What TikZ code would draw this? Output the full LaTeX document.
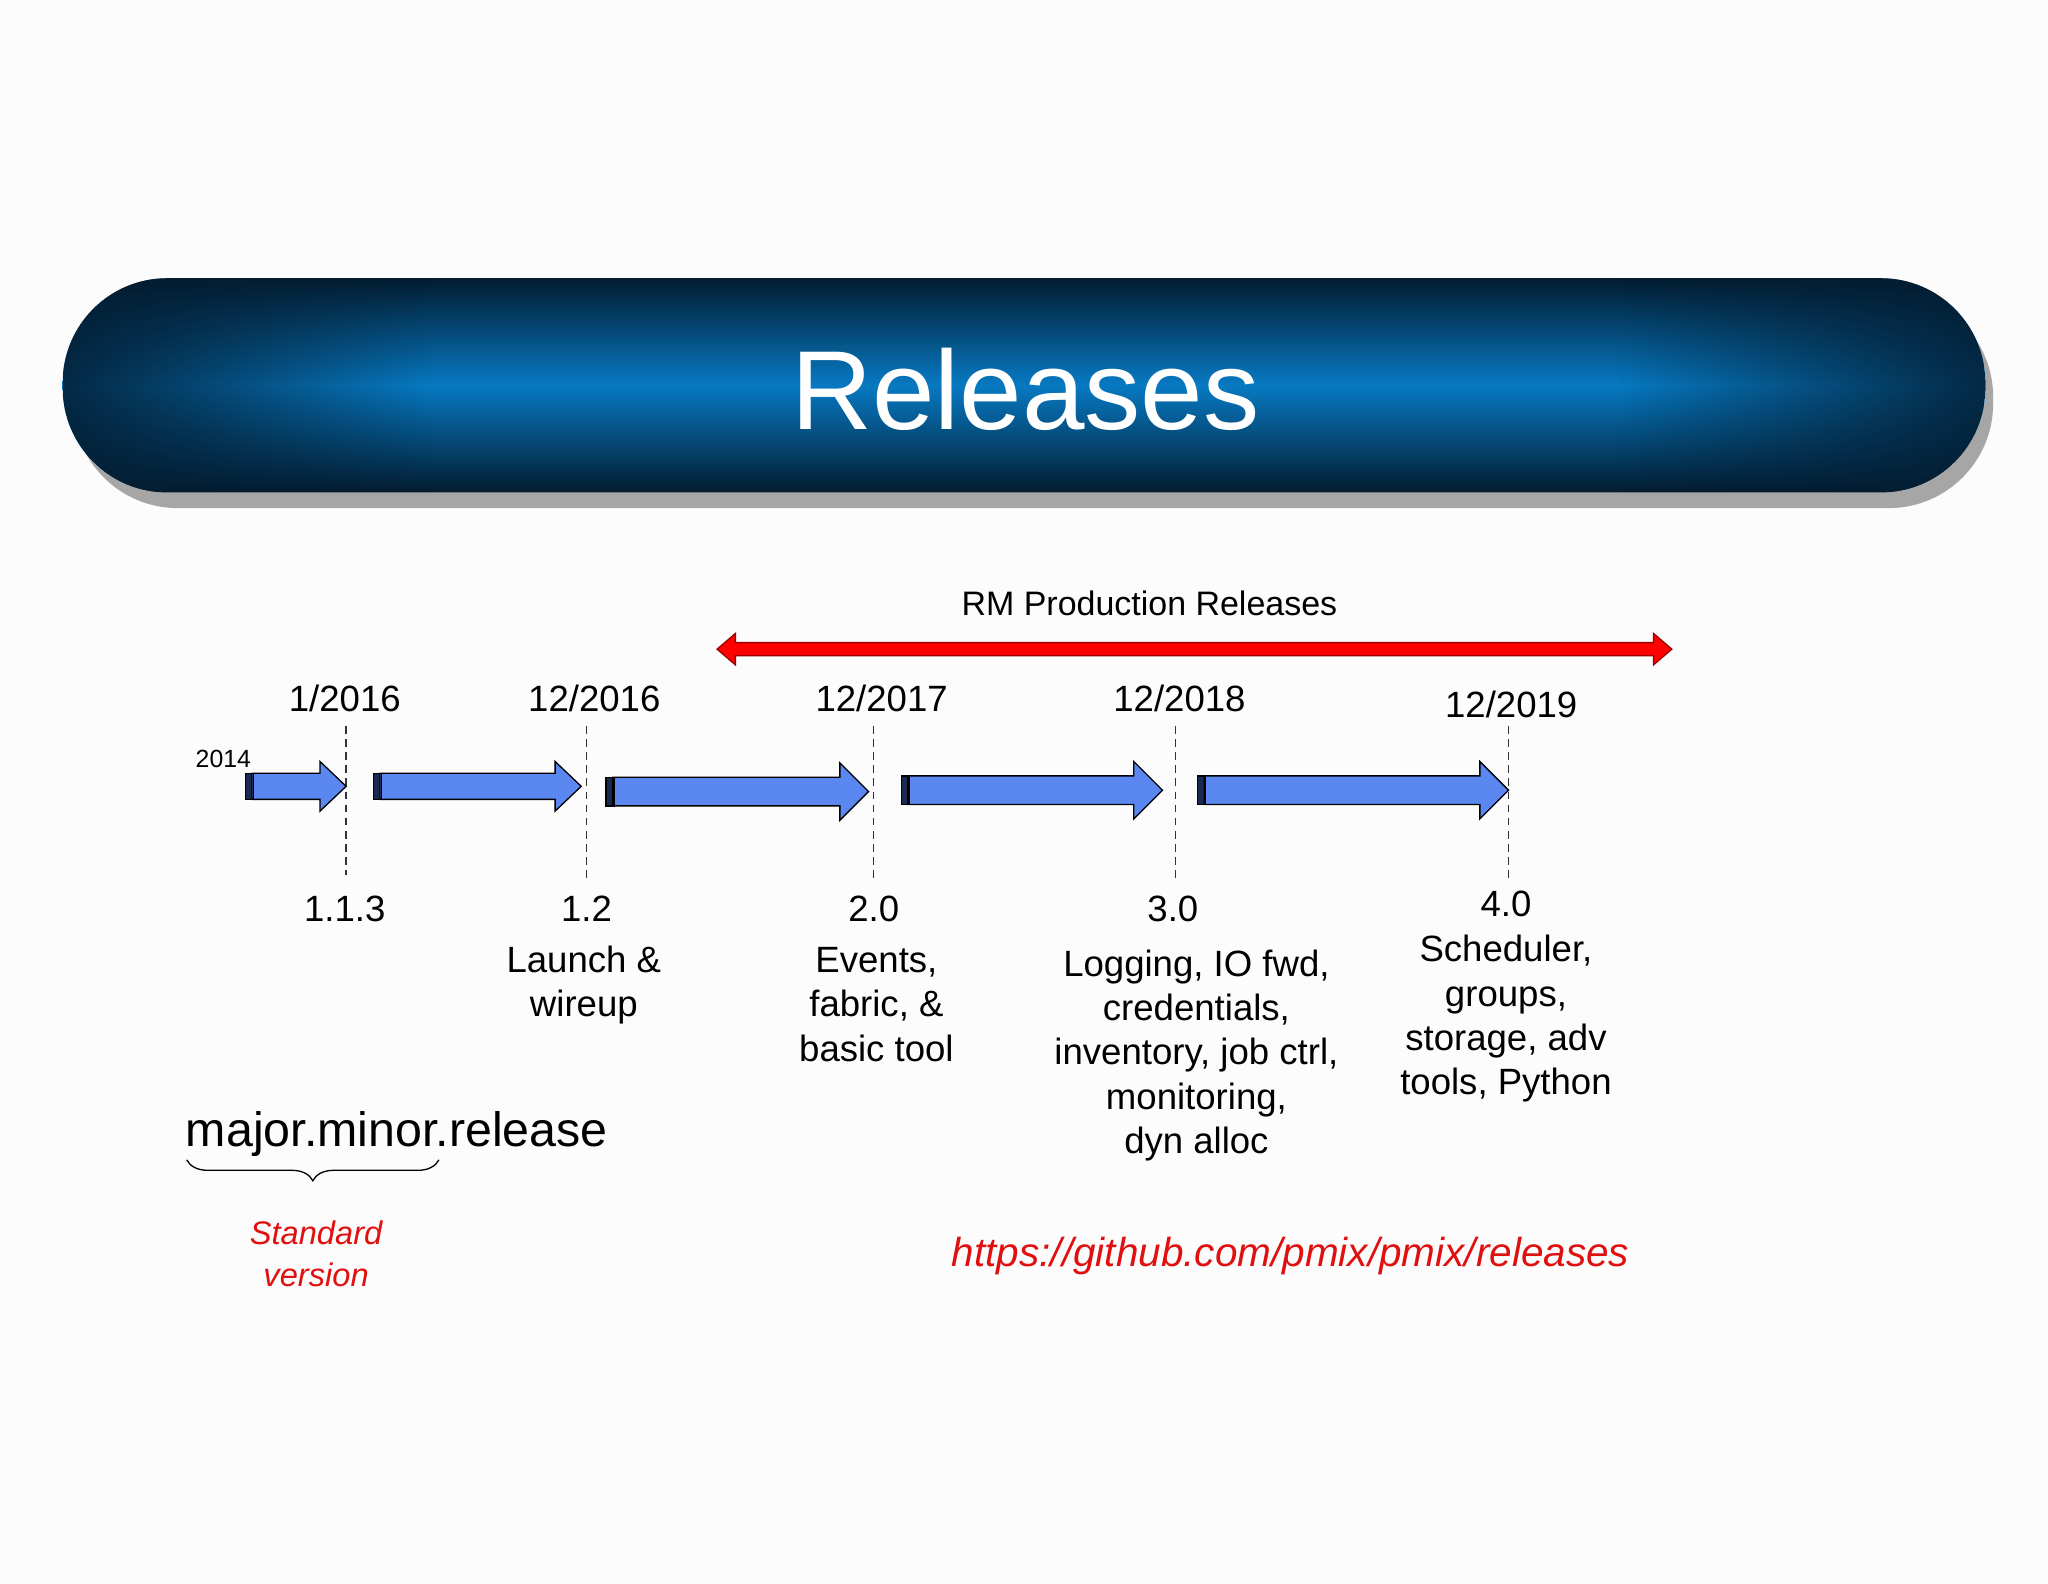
\documentclass[tikz,border=0pt]{standalone}
\usepackage{fontspec}
\setmainfont{Liberation Sans}
\usetikzlibrary{decorations.pathreplacing,fadings}
\definecolor{bg}{HTML}{FCFCFC}
\definecolor{navy}{HTML}{031C30}
\definecolor{midblue}{HTML}{0779C2}
\definecolor{arrblue}{HTML}{5B87F0}
\definecolor{arrdark}{HTML}{1A2A50}
\definecolor{redtxt}{HTML}{E01010}
\tikzset{
  lbl/.style={font=\fontsize{14pt}{17pt}\selectfont, align=center, inner sep=0pt},
  vline/.style={densely dashed, line width=0.5pt, black!80},
  redlink/.style={text=redtxt, font=\itshape},
}
\newcommand{\relarrow}[6]{% x1 x2 yc shaft head headlen
  \fill[arrdark] (#1,#3-#4) rectangle (#1+6,#3+#4);
  \draw[fill=arrblue, line width=0.5pt] (#1+5,#3-#4) -- (#2-#6,#3-#4) -- (#2-#6,#3-#5) -- (#2,#3) -- (#2-#6,#3+#5) -- (#2-#6,#3+#4) -- (#1+5,#3+#4) -- cycle;
  \draw[line width=0.5pt] (#1,#3-#4) rectangle (#1+6,#3+#4);
}
\begin{document}
\begin{tikzpicture}[x=0.5pt,y=-0.5pt]
\useasboundingbox[fill=bg] (0,0) rectangle (1568,1212);
% banner
\fill[black!35, rounded corners=40pt] (56,224) rectangle (1526,389);
\begin{scope}
\clip[rounded corners=40pt] (48,213) rectangle (1520,377);
\shade[top color=navy, bottom color=navy, middle color=midblue] (48,213) rectangle (1520,377);
\fill[navy, path fading=east, opacity=0.85] (48,213) rectangle (330,377);
\fill[navy, path fading=west, opacity=0.85] (1238,213) rectangle (1520,377);
\end{scope}
\node[text=white, font=\fontsize{43pt}{50pt}\selectfont] (title) at (785,298) {Releases};
% RM production
\node[lbl, font=\fontsize{13pt}{16pt}\selectfont] (rm) at (880,462) {RM Production Releases};
\draw[fill=red, draw=red!60!black, line width=0.5pt] (549,497) -- (563,485) -- (563,492) -- (1266,492) -- (1266,485) -- (1280,497) -- (1266,509) -- (1266,502) -- (563,502) -- (563,509) -- cycle;
% dates
\node[lbl] (d1) at (264,535) {1/2016};
\node[lbl] (d2) at (455,535) {12/2016};
\node[lbl] (d3) at (675,535) {12/2017};
\node[lbl] (d4) at (903,535) {12/2018};
\node[lbl] (d5) at (1157,539) {12/2019};
\node[lbl, font=\fontsize{9.5pt}{11pt}\selectfont] (y0) at (171,581) {2014};
% dashed lines
\draw[vline] (265,556) -- (265,670);
\draw[vline] (449,556) -- (449,672);
\draw[vline] (669,556) -- (669,672);
\draw[vline] (900,556) -- (900,672);
\draw[vline] (1155,556) -- (1155,672);
% arrows
\relarrow{188}{265}{602}{10}{19}{20}
\relarrow{286}{445}{602}{10}{19}{20}
\relarrow{464}{665}{606}{11}{22}{22}
\relarrow{690}{890}{605}{11}{22}{22}
\relarrow{917}{1155}{605}{11}{22}{22}
% versions
\node[lbl] (v1) at (264,696) {1.1.3};
\node[lbl] (v2) at (449,696) {1.2};
\node[lbl] (v3) at (669,696) {2.0};
\node[lbl] (v4) at (898,696) {3.0};
\node[lbl] (v5) at (1153,692) {4.0};
\node[lbl] (t2) at (447,754) {Launch \&\\wireup};
\node[lbl] (t3) at (671,769) {Events,\\fabric, \&\\basic tool};
\node[lbl] (t4) at (916,808) {Logging, IO fwd,\\credentials,\\inventory, job ctrl,\\monitoring,\\dyn alloc};
\node[lbl] (t5) at (1153,780) {Scheduler,\\groups,\\storage, adv\\tools, Python};
% legend
\node[anchor=west, inner sep=0pt, font=\fontsize{18.5pt}{21pt}\selectfont] (mm) at (142,868) {major.minor.release};
\draw[decorate, decoration={brace, mirror, amplitude=8pt}, line width=0.5pt] (143,888) -- (336,888);
\node[lbl, redlink, font=\itshape\fontsize{12.5pt}{16pt}\selectfont] (sv) at (242,960) {Standard\\version};
\node[lbl, redlink, font=\itshape\fontsize{15.5pt}{18pt}\selectfont] (url) at (988,962) {https://github.com/pmix/pmix/releases};
\end{tikzpicture}
\end{document}
